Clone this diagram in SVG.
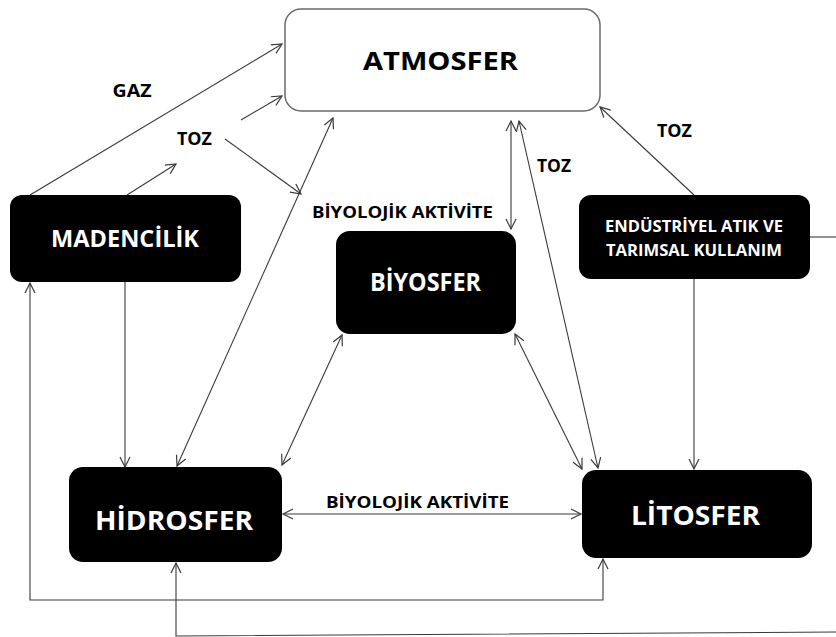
<svg xmlns="http://www.w3.org/2000/svg" width="836" height="637" viewBox="0 0 836 637">
<defs>
<marker id="arr" markerUnits="userSpaceOnUse" markerWidth="14" markerHeight="14" refX="11" refY="6" orient="auto-start-reverse" viewBox="0 0 14 12">
<path d="M1,1 L11,6 L1,11" fill="none" stroke="#3a3a3a" stroke-width="1.2"/>
</marker>
<style>
.box{fill:#000;}
.atm{fill:#fff;stroke:#6a6a6a;stroke-width:1.5;}
.t{font-family:"Open Sans","Liberation Sans",Arial,sans-serif;font-weight:bold;text-anchor:middle;}
.w{fill:#fff;}
.k{fill:#000;}
.c{fill:none;stroke:#3a3a3a;stroke-width:1.1;}
</style>
</defs>
<g id="connectors">
<path class="c" d="M30,195 L282,44" marker-end="url(#arr)"/>
<path class="c" d="M127,195 L176,164" marker-end="url(#arr)"/>
<path class="c" d="M241,120 L282,96" marker-end="url(#arr)"/>
<path class="c" d="M225,139 L301,194" marker-end="url(#arr)"/>
<path class="c" d="M333,118 L177,466" marker-start="url(#arr)" marker-end="url(#arr)"/>
<path class="c" d="M511,121 L511,229" marker-start="url(#arr)" marker-end="url(#arr)"/>
<path class="c" d="M519,121 L598,468" marker-start="url(#arr)" marker-end="url(#arr)"/>
<path class="c" d="M694,195 L600,107" marker-end="url(#arr)"/>
<path class="c" d="M694,279 L694,469" marker-end="url(#arr)"/>
<path class="c" d="M342,335 L282,465" marker-start="url(#arr)" marker-end="url(#arr)"/>
<path class="c" d="M515,334 L582,469" marker-start="url(#arr)" marker-end="url(#arr)"/>
<path class="c" d="M283,514 L581,514" marker-start="url(#arr)" marker-end="url(#arr)"/>
<path class="c" d="M125,282 L125,467" marker-end="url(#arr)"/>
<path class="c" d="M30,283 L30,600 L603,600 L603,559" marker-start="url(#arr)" marker-end="url(#arr)"/>
<path class="c" d="M810,237 L836,237"/>
<path class="c" d="M836,632 L176,636 L176,563" marker-end="url(#arr)"/>
</g>
<g id="labels">
<text class="t k" x="132" y="97" font-size="17.5" textLength="39" lengthAdjust="spacingAndGlyphs">GAZ</text>
<text class="t k" x="194.5" y="144.5" font-size="17.5" textLength="35" lengthAdjust="spacingAndGlyphs">TOZ</text>
<text class="t k" x="554" y="172" font-size="17.5" textLength="34" lengthAdjust="spacingAndGlyphs">TOZ</text>
<text class="t k" x="674.5" y="136.5" font-size="17.5" textLength="35" lengthAdjust="spacingAndGlyphs">TOZ</text>
<text class="t k" x="402.5" y="218" font-size="16" textLength="181" lengthAdjust="spacingAndGlyphs">BİYOLOJİK AKTİVİTE</text>
<text class="t k" x="417.5" y="508" font-size="16" textLength="183" lengthAdjust="spacingAndGlyphs">BİYOLOJİK AKTİVİTE</text>
</g>
<g id="atmosfer">
<rect class="atm" x="285" y="9" width="315" height="102" rx="16"/>
<text class="t k" x="440.5" y="70" font-size="25" textLength="155" lengthAdjust="spacingAndGlyphs">ATMOSFER</text>
</g>
<g id="madencilik">
<rect class="box" x="10" y="195" width="231" height="87" rx="12"/>
<text class="t w" x="125" y="247" font-size="23" textLength="148" lengthAdjust="spacingAndGlyphs">MADENCİLİK</text>
</g>
<g id="biyosfer">
<rect class="box" x="336" y="231" width="180" height="103" rx="14"/>
<text class="t w" x="425.5" y="291" font-size="25" textLength="111" lengthAdjust="spacingAndGlyphs">BİYOSFER</text>
</g>
<g id="endustriyel">
<rect class="box" x="579" y="195" width="231" height="84" rx="12"/>
<text class="t w" x="694" y="232" font-size="16" textLength="178" lengthAdjust="spacingAndGlyphs">ENDÜSTRİYEL ATIK VE</text>
<text class="t w" x="694" y="255.5" font-size="16" textLength="176" lengthAdjust="spacingAndGlyphs">TARIMSAL KULLANIM</text>
</g>
<g id="hidrosfer">
<rect class="box" x="69" y="467" width="213" height="95" rx="14"/>
<text class="t w" x="174" y="529.5" font-size="27" textLength="158" lengthAdjust="spacingAndGlyphs">HİDROSFER</text>
</g>
<g id="litosfer">
<rect class="box" x="582" y="470" width="230" height="88" rx="14"/>
<text class="t w" x="695.5" y="525" font-size="26" textLength="129" lengthAdjust="spacingAndGlyphs">LİTOSFER</text>
</g>
</svg>
